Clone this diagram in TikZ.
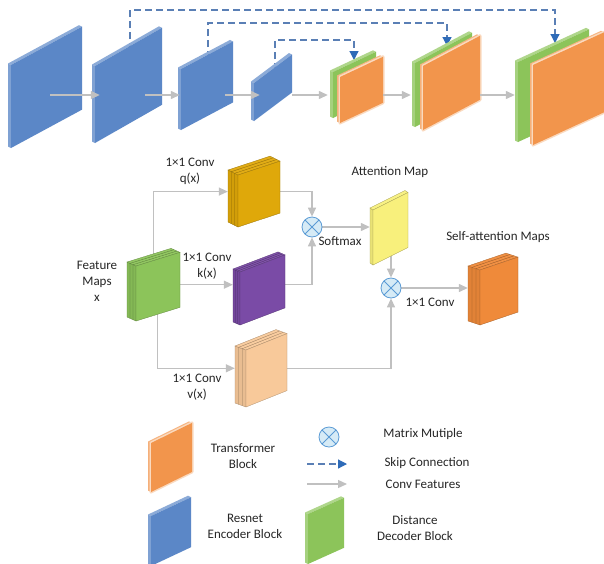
\documentclass[tikz,border=0pt]{standalone}
\usepackage{fontspec}
\setmainfont{Carlito}
\usetikzlibrary{calc,arrows.meta,fit}
\pgfdeclarelayer{bg}
\pgfsetlayers{bg,main}

\definecolor{encblue}{HTML}{5B87C7}
\definecolor{decgreen}{HTML}{8CC45A}
\definecolor{trorange}{HTML}{F2954C}
\definecolor{qgold}{HTML}{DFA80A}
\definecolor{kpurple}{HTML}{7A4BA6}
\definecolor{attyellow}{HTML}{F8F07C}
\definecolor{vpeach}{HTML}{F8C99A}
\definecolor{saorange}{HTML}{EF8A3A}
\definecolor{convgray}{HTML}{C0C0C0}
\definecolor{skipblue}{HTML}{5A7FB5}
\definecolor{skiphead}{HTML}{2E6BB8}
\definecolor{mulfill}{HTML}{D6EBF6}
\definecolor{mulline}{HTML}{5B9BD5}

\tikzset{
  slabstyle/.style={
    fface/.style={fill=##1},
    sface/.style={fill=##1!78!white},
    tface/.style={fill=##1!70!white},
    slice/.style={draw=##1!55!black, line width=.3pt}},
  glowslab/.style={
    fface/.style={fill=##1, preaction={draw=##1!35, line width=3pt, line join=round}},
    sface/.style={fill=##1!75!white},
    tface/.style={fill=##1!70!white},
    slice/.style={draw=##1!55!black, line width=.3pt}},
  boxstyle/.style={
    fface/.style={fill=##1, draw=##1!70!black, line width=.3pt},
    sface/.style={fill=##1!94!black, draw=##1!70!black, line width=.3pt},
    tface/.style={fill=##1!95!white, draw=##1!70!black, line width=.3pt},
    slice/.style={draw=##1!60!black, line width=.3pt}},
  conv/.style={draw=convgray, line width=1.3pt, -{Triangle[length=9pt,width=8pt]}},
  skip/.style={draw=skipblue, line width=1.2pt, dash pattern=on 7pt off 4pt,
    -{Triangle[length=9pt,width=9pt,color=skiphead]}},
  mul/.style={circle, draw=mulline, fill=mulfill, minimum size=20pt, inner sep=0pt,
    line width=.8pt,
    path picture={\draw[mulline, line width=.8pt]
      (path picture bounding box.north west) -- (path picture bounding box.south east)
      (path picture bounding box.north east) -- (path picture bounding box.south west);}},
  lbl/.style={font=\fontsize{13}{16}\selectfont, align=center, inner sep=0pt, text=black!85}
}

% [slices] name x y w h slope depth colour
\newcommand{\slabbox}[9][1]{%
  \coordinate (A) at (#3,#4);
  \coordinate (B) at ({#3+#5},{#4-#7*#5});
  \coordinate (C) at ({#3+#5},{#4-#7*#5-#6});
  \coordinate (D) at (#3,{#4-#6});
  \coordinate (Ad) at ($(A)+(#8)$);
  \coordinate (Cd) at ($(C)+(#8)$);
  \coordinate (Dd) at ($(D)+(#8)$);
  \path[sface=#9] (A) -- (D) -- (Dd) -- (Ad) -- cycle;
  \path[tface=#9] (D) -- (C) -- (Cd) -- (Dd) -- cycle;
  \path[fface=#9] (A) -- (B) -- (C) -- (D) -- cycle;
  \ifnum#1>1
    \foreach \i in {2,...,#1}{%
      \pgfmathsetmacro\fr{(\i-1)/#1}
      \draw[slice=#9] ($(A)+\fr*(#8)$) -- ($(D)+\fr*(#8)$) -- ($(C)+\fr*(#8)$);
    }
  \fi
  \node[fit=(A)(B)(C)(D)(Ad)(Cd)(Dd), inner sep=0pt] (#2) {};
}

\begin{document}
\begin{tikzpicture}[x=1pt,y=-1pt]
\begin{pgfonlayer}{bg}
  \fill[white] (0,0) rectangle (604,563);
\end{pgfonlayer}
\useasboundingbox (0,0) rectangle (604,563);

% ---------- top row ----------
\begin{scope}[slabstyle]
  \slabbox{b1}{11}{148}{71}{83}{0.54}{-3,-1.5}{encblue}
  \slabbox{b2}{95}{143}{67}{77}{0.57}{-3,-1.5}{encblue}
  \slabbox{b3}{181}{130}{52}{61}{0.53}{-3,-1.5}{encblue}
  \slabbox{b4}{254}{121}{38}{38}{0.75}{-3,-1.5}{encblue}
  \slabbox{g1}{333}{118}{43}{46}{0.47}{-3,-1.5}{decgreen}
\end{scope}
\begin{scope}[glowslab]
  \slabbox{o1}{340}{123}{43}{46}{0.47}{-3,-1.5}{trorange}
\end{scope}
\begin{scope}[slabstyle]
  \slabbox{g2}{415}{127}{57}{64}{0.53}{-3,-1.5}{decgreen}
\end{scope}
\begin{scope}[glowslab]
  \slabbox{o2}{423}{130}{57}{64}{0.53}{-3,-1.5}{trorange}
\end{scope}
\begin{scope}[slabstyle]
  \slabbox{g3}{518}{142}{71}{80}{0.46}{-3,-1.5}{decgreen}
\end{scope}
\begin{scope}[glowslab]
  \slabbox{o3}{533}{145}{71}{80}{0.46}{-3,-1.5}{trorange}
\end{scope}

\coordinate (row) at (0,95);
\draw[conv] ([xshift=-32pt]b1.east |- row) -- ([xshift=8pt]b2.west |- row);
\draw[conv] ([xshift=-17pt]b2.east |- row) -- ([xshift=2pt]b3.west |- row);
\draw[conv] ([xshift=-8pt]b3.east |- row) -- ([xshift=9pt]b4.west |- row);
\draw[conv] (b4.east |- row) -- ([xshift=-2pt]g1.west |- row);
\draw[conv] (o1.east |- row) -- ([xshift=-1pt]g2.west |- row);
\draw[conv] (o2.east |- row) -- (g3.west |- row);

% skip connections
\coordinate (sk1s) at (130,50);
\coordinate (sk1e) at (555,43);
\coordinate (sk2s) at (208,58);
\coordinate (sk2e) at (447,46);
\coordinate (sk3s) at (275,70);
\coordinate (sk3e) at (354,60);
\begin{pgfonlayer}{bg}
  \draw[skip] (sk1s) -- ++(0,-40) -| (sk1e);
  \draw[skip] (sk2s) -- ++(0,-35) -| (sk2e);
  \draw[skip] (sk3s) -- ++(0,-30) -| (sk3e);
\end{pgfonlayer}

% ---------- attention module ----------
\begin{scope}[boxstyle]
  \slabbox[3]{q}{238}{227}{42}{52}{0.33}{-10,-5}{qgold}
  \slabbox[3]{fm}{136}{321}{44}{55}{0.31}{-9,-4}{decgreen}
  \slabbox[3]{k}{240}{325}{45}{53}{0.38}{-7,-3}{kpurple}
  \slabbox[1]{att}{373}{265}{35}{55}{0.5}{-3,-2}{attyellow}
  \slabbox[3]{sa}{480}{325}{38}{55}{0.34}{-12,-4}{saorange}
  \slabbox[3]{v}{246}{407}{41}{57}{0.4}{-11,-4}{vpeach}
\end{scope}

\node[mul] (c1) at (312,227) {};
\node[mul] (c2) at (391,288) {};

\begin{pgfonlayer}{bg}
  \draw[conv] (fm.center) |- (q.west);
  \draw[conv] (fm.east) -- (fm.east -| k.west);
  \draw[conv] (q.east) -| (c1.north);
  \draw[conv] (k.east |- fm.east) -| (c1.south);
  \draw[conv] (c1.east) -- (c1.east -| att.west);
  \draw[conv] (c2 |- att.center) -- (c2.north);
  \draw[conv] (c2.east) -- (c2.east -| sa.west);
  \draw[conv] ([xshift=4pt]fm.center) |- (v.west);
  \draw[conv] (v.east) -| (c2.south);
\end{pgfonlayer}

\node[lbl] (lq) at (190,171.5) {1×1 Conv\\q(x)};
\node[lbl] (lfm) at (97,281.5) {Feature\\Maps\\x};
\node[lbl] (lk) at (207,266) {1×1 Conv\\k(x)};
\node[lbl] (latt) at (390,172) {Attention Map};
\node[lbl] (lsm) at (340,241) {Softmax};
\node[lbl] (lsa) at (498,237) {Self-attention Maps};
\node[lbl] (lc2) at (430,302) {1×1 Conv};
\node[lbl] (lv) at (197,387) {1×1 Conv\\v(x)};

% ---------- legend ----------
\begin{scope}[glowslab]
  \slabbox{legtr}{151}{492}{41}{49}{0.49}{-3,-1.5}{trorange}
\end{scope}
\begin{scope}[slabstyle]
  \slabbox{legenc}{151}{566}{40}{50}{0.47}{-3,-1.5}{encblue}
  \slabbox{legdec}{308}{564}{36}{50}{0.45}{-3,-1.5}{decgreen}
\end{scope}
\node[mul] (legmul) at (329,437) {};
\coordinate (lska) at (307,464);
\coordinate (lskb) at (347,464);
\coordinate (lcva) at (307,484);
\coordinate (lcvb) at (347,484);
\draw[skip] (lska) -- (lskb);
\draw[conv] (lcva) -- (lcvb);

\node[lbl] (ltr) at (243,456) {Transformer\\Block};
\node[lbl] (lmul) at (423,434) {Matrix Mutiple};
\node[lbl] (lsk) at (427,463) {Skip Connection};
\node[lbl] (lcv) at (423,484) {Conv Features};
\node[lbl] (lenc) at (245,526) {Resnet\\Encoder Block};
\node[lbl] (ldec) at (415,528) {Distance\\Decoder Block};
\end{tikzpicture}
\end{document}
